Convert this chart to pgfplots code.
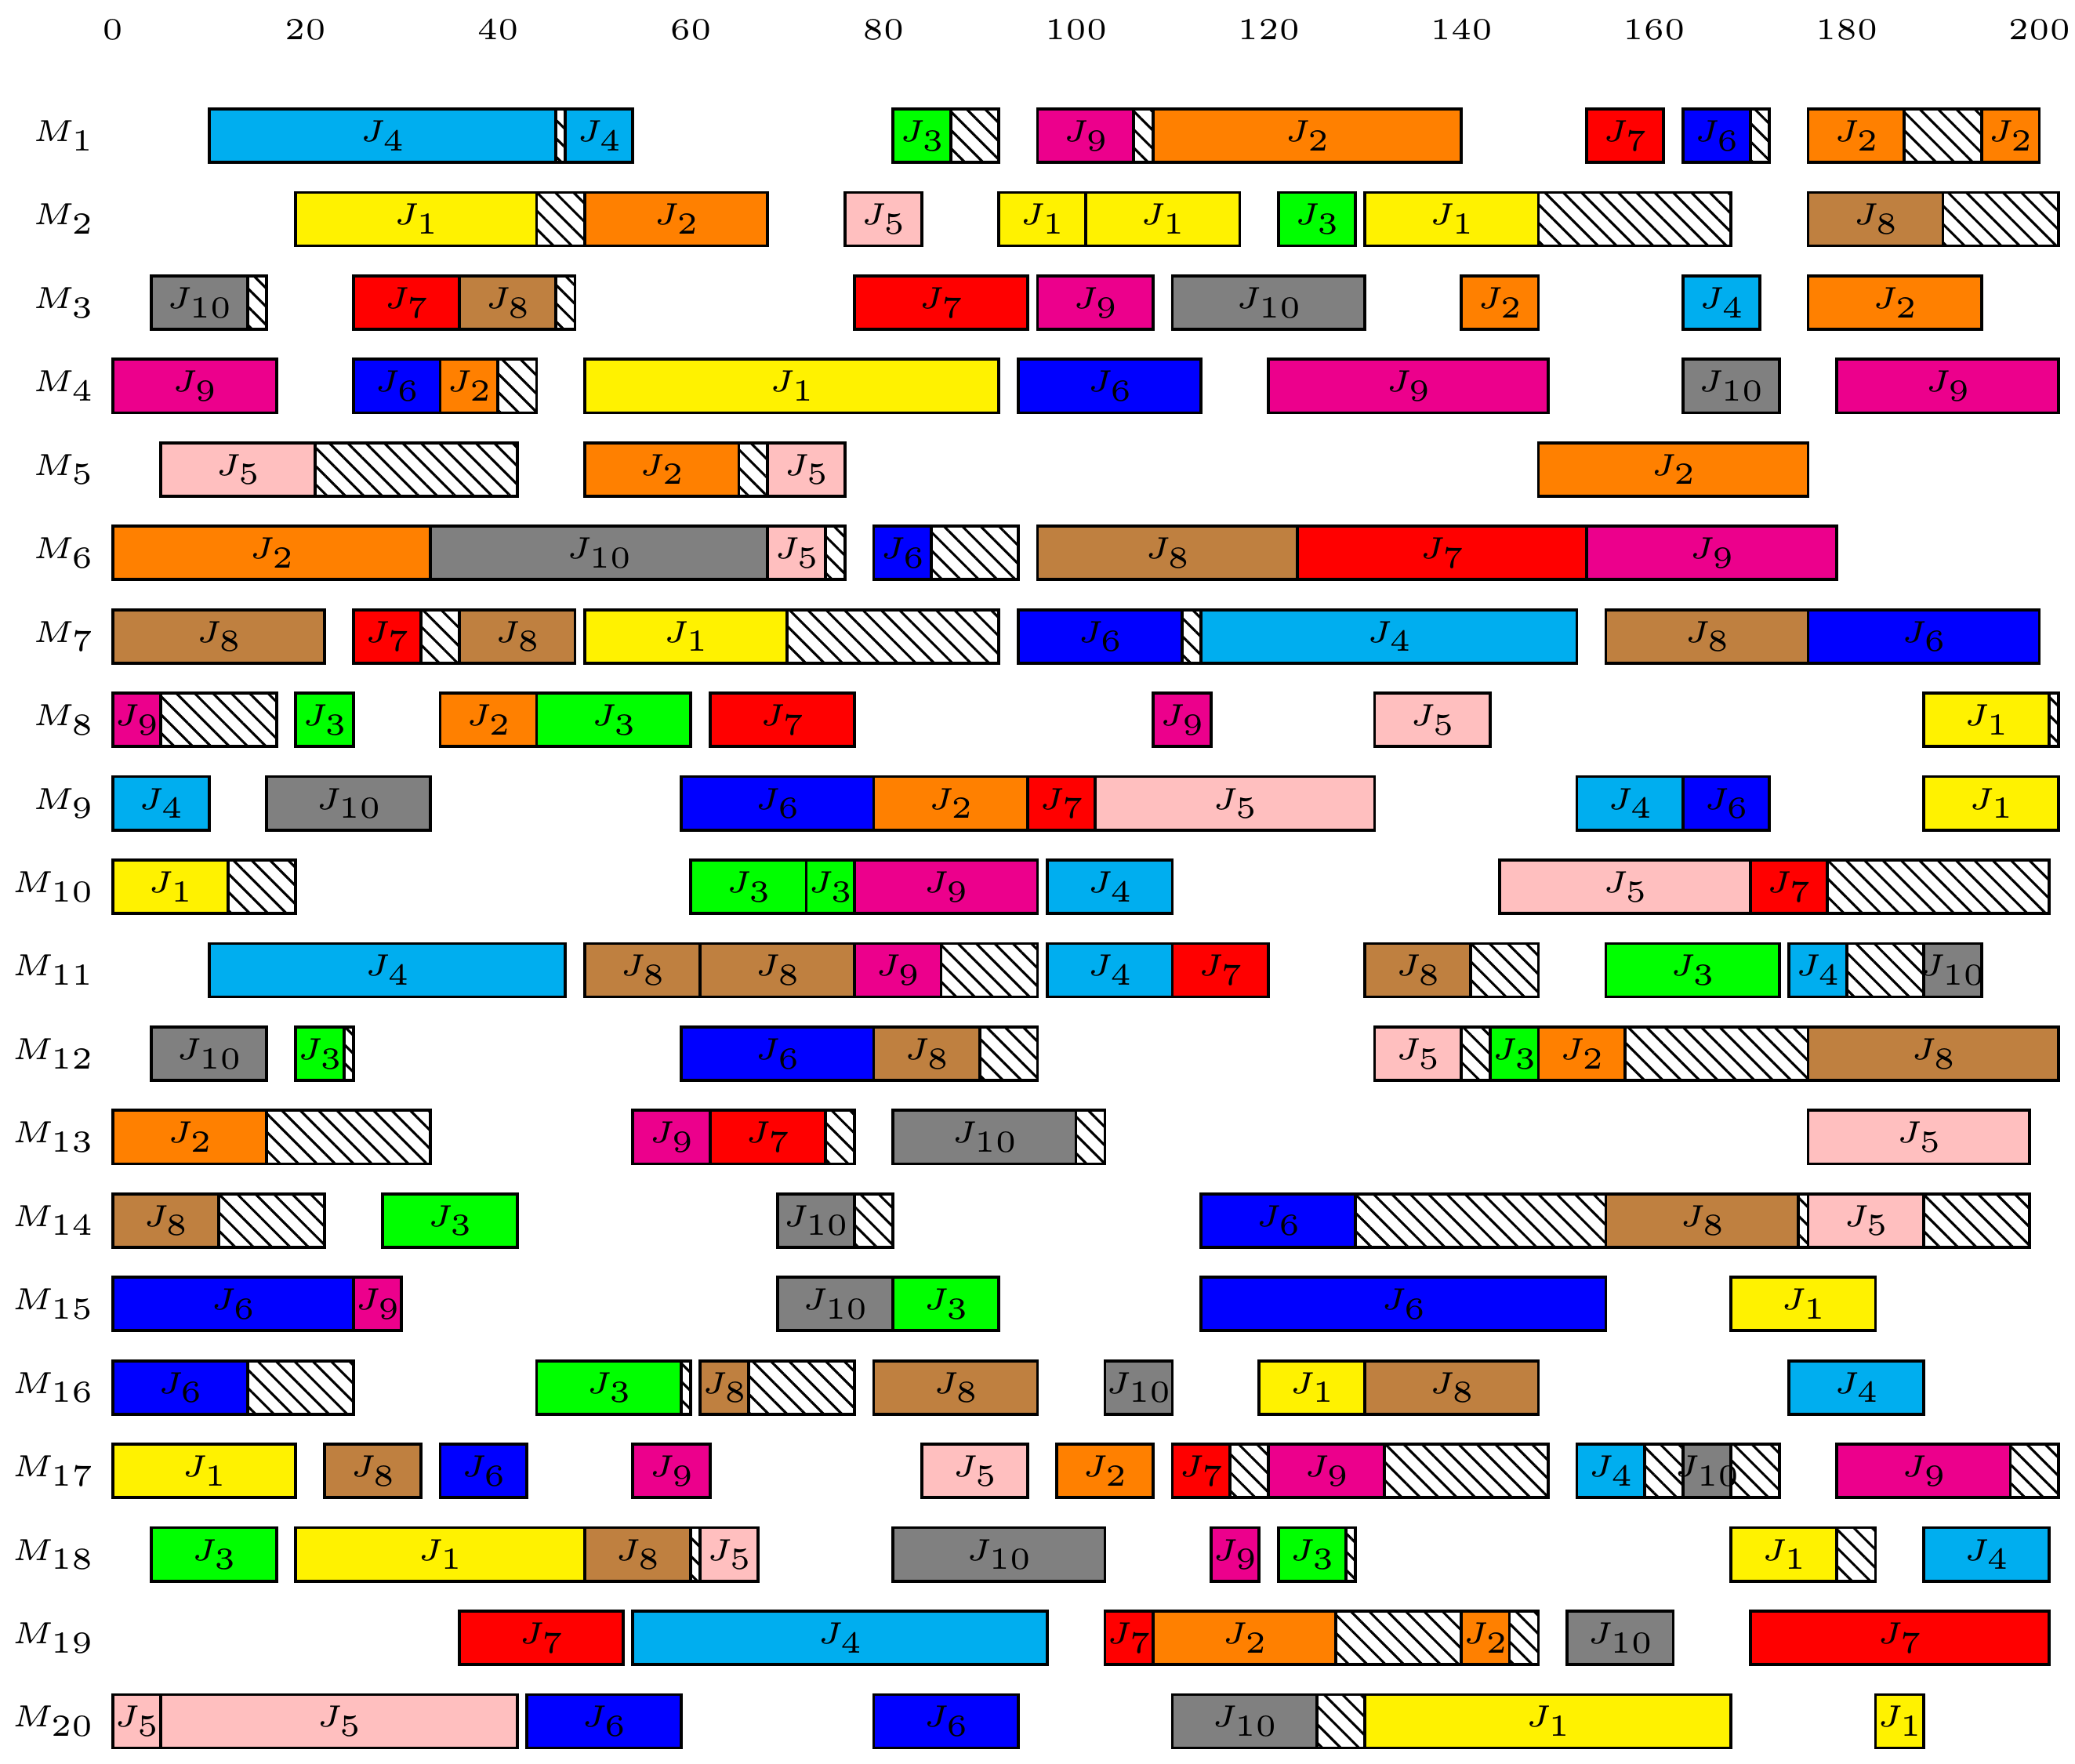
\documentclass[border=0pt]{standalone}
\usepackage{pgfplots}
\pgfplotsset{compat=1.18}
\usetikzlibrary{patterns.meta}
\DeclareFontShape{OT1}{cmr}{m}{n}{<-> cmr5}{}
\DeclareFontShape{OML}{cmm}{m}{it}{<-> cmmi5}{}
\DeclareFontShape{OMS}{cmsy}{m}{n}{<-> cmsy5}{}
\DeclareMathSizes{8.7}{8.7}{8.7}{8.7}
\definecolor{c1}{RGB}{255,242,0}
\definecolor{c2}{RGB}{255,128,0}
\definecolor{c3}{RGB}{0,255,0}
\definecolor{c4}{RGB}{0,174,239}
\definecolor{c5}{RGB}{255,191,191}
\definecolor{c6}{RGB}{0,0,255}
\definecolor{c7}{RGB}{255,0,0}
\definecolor{c8}{RGB}{191,128,64}
\definecolor{c9}{RGB}{236,0,140}
\definecolor{c10}{RGB}{128,128,128}
\newcommand\lblfont{\fontsize{8.7}{10}\selectfont}
\tikzset{hatch/.style={pattern={Lines[angle=-45,distance=3.69pt,line width=0.7pt]},pattern color=black}}
% job bar: row, start, end, job
\newcommand\JT[4]{%
  \pgfmathsetmacro\ylo{#1-0.32}\pgfmathsetmacro\yhi{#1+0.32}%
  \pgfmathsetmacro\xm{(#2+#3)/2}%
  \edef\tmp{\noexpand\addplot[draw=black,line width=0.85pt,fill=c#4] coordinates {(#2,\ylo) (#3,\ylo) (#3,\yhi) (#2,\yhi)} --cycle;%
  \noexpand\addplot[draw=none,mark=none,nodes near coords={$J_{#4}$},every node near coord/.append style={anchor=center,text=black,font=\noexpand\lblfont}] coordinates {(\xm,#1)};}%
  \tmp}
% idle (hatched): row, start, end
\newcommand\HT[3]{%
  \pgfmathsetmacro\ylo{#1-0.32}\pgfmathsetmacro\yhi{#1+0.32}%
  \edef\tmp{\noexpand\addplot[draw=black,line width=0.85pt,hatch] coordinates {(#2,\ylo) (#3,\ylo) (#3,\yhi) (#2,\yhi)} --cycle;}%
  \tmp}
\begin{document}
\begin{tikzpicture}
\begin{axis}[
  x=2.743pt, y=23.76pt, y dir=reverse,
  xmin=-0.62, xmax=202, ymin=0, ymax=20.5,
  axis line style={draw=none},
  major tick length=0pt,
  xtick={0,20,...,200},
  xticklabel pos=upper,
  ytick={1,...,20},
  tick label style={font=\lblfont},
  xticklabel style={inner xsep=1.3pt,text height=8pt},
  yticklabels={$M_{1}$,$M_{2}$,$M_{3}$,$M_{4}$,$M_{5}$,$M_{6}$,$M_{7}$,$M_{8}$,$M_{9}$,$M_{10}$,$M_{11}$,$M_{12}$,$M_{13}$,$M_{14}$,$M_{15}$,$M_{16}$,$M_{17}$,$M_{18}$,$M_{19}$,$M_{20}$},
  clip=false,
]
% M1
\JT{1}{10}{46}{4} \HT{1}{46}{47} \JT{1}{47}{54}{4}
\JT{1}{81}{87}{3} \HT{1}{87}{92}
\JT{1}{96}{106}{9} \HT{1}{106}{108} \JT{1}{108}{140}{2}
\JT{1}{153}{161}{7}
\JT{1}{163}{170}{6} \HT{1}{170}{172}
\JT{1}{176}{186}{2} \HT{1}{186}{194} \JT{1}{194}{200}{2}
% M2
\JT{2}{19}{44}{1} \HT{2}{44}{49} \JT{2}{49}{68}{2}
\JT{2}{76}{84}{5}
\JT{2}{92}{101}{1} \JT{2}{101}{117}{1}
\JT{2}{121}{129}{3}
\JT{2}{130}{148}{1} \HT{2}{148}{168}
\JT{2}{176}{190}{8} \HT{2}{190}{202}
% M3
\JT{3}{4}{14}{10} \HT{3}{14}{16}
\JT{3}{25}{36}{7} \JT{3}{36}{46}{8} \HT{3}{46}{48}
\JT{3}{77}{95}{7}
\JT{3}{96}{108}{9}
\JT{3}{110}{130}{10}
\JT{3}{140}{148}{2}
\JT{3}{163}{171}{4}
\JT{3}{176}{194}{2}
% M4
\JT{4}{0}{17}{9}
\JT{4}{25}{34}{6} \JT{4}{34}{40}{2} \HT{4}{40}{44}
\JT{4}{49}{92}{1}
\JT{4}{94}{113}{6}
\JT{4}{120}{149}{9}
\JT{4}{163}{173}{10}
\JT{4}{179}{202}{9}
% M5
\JT{5}{5}{21}{5} \HT{5}{21}{42}
\JT{5}{49}{65}{2} \HT{5}{65}{68} \JT{5}{68}{76}{5}
\JT{5}{148}{176}{2}
% M6
\JT{6}{0}{33}{2} \JT{6}{33}{68}{10} \JT{6}{68}{74}{5} \HT{6}{74}{76}
\JT{6}{79}{85}{6} \HT{6}{85}{94}
\JT{6}{96}{123}{8} \JT{6}{123}{153}{7} \JT{6}{153}{179}{9}
% M7
\JT{7}{0}{22}{8}
\JT{7}{25}{32}{7} \HT{7}{32}{36} \JT{7}{36}{48}{8}
\JT{7}{49}{70}{1} \HT{7}{70}{92}
\JT{7}{94}{111}{6} \HT{7}{111}{113} \JT{7}{113}{152}{4}
\JT{7}{155}{176}{8} \JT{7}{176}{200}{6}
% M8
\JT{8}{0}{5}{9} \HT{8}{5}{17}
\JT{8}{19}{25}{3}
\JT{8}{34}{44}{2} \JT{8}{44}{60}{3}
\JT{8}{62}{77}{7}
\JT{8}{108}{114}{9}
\JT{8}{131}{143}{5}
\JT{8}{188}{201}{1} \HT{8}{201}{202}
% M9
\JT{9}{0}{10}{4}
\JT{9}{16}{33}{10}
\JT{9}{59}{79}{6} \JT{9}{79}{95}{2} \JT{9}{95}{102}{7} \JT{9}{102}{131}{5}
\JT{9}{152}{163}{4} \JT{9}{163}{172}{6}
\JT{9}{188}{202}{1}
% M10
\JT{10}{0}{12}{1} \HT{10}{12}{19}
\JT{10}{60}{72}{3} \JT{10}{72}{77}{3} \JT{10}{77}{96}{9}
\JT{10}{97}{110}{4}
\JT{10}{144}{170}{5} \JT{10}{170}{178}{7} \HT{10}{178}{201}
% M11
\JT{11}{10}{47}{4}
\JT{11}{49}{61}{8} \JT{11}{61}{77}{8} \JT{11}{77}{86}{9} \HT{11}{86}{96}
\JT{11}{97}{110}{4} \JT{11}{110}{120}{7}
\JT{11}{130}{141}{8} \HT{11}{141}{148}
\JT{11}{155}{173}{3}
\JT{11}{174}{180}{4} \HT{11}{180}{188} \JT{11}{188}{194}{10}
% M12
\JT{12}{4}{16}{10}
\JT{12}{19}{24}{3} \HT{12}{24}{25}
\JT{12}{59}{79}{6} \JT{12}{79}{90}{8} \HT{12}{90}{96}
\JT{12}{131}{140}{5} \HT{12}{140}{143} \JT{12}{143}{148}{3} \JT{12}{148}{157}{2} \HT{12}{157}{176} \JT{12}{176}{202}{8}
% M13
\JT{13}{0}{16}{2} \HT{13}{16}{33}
\JT{13}{54}{62}{9} \JT{13}{62}{74}{7} \HT{13}{74}{77}
\JT{13}{81}{100}{10} \HT{13}{100}{103}
\JT{13}{176}{199}{5}
% M14
\JT{14}{0}{11}{8} \HT{14}{11}{22}
\JT{14}{28}{42}{3}
\JT{14}{69}{77}{10} \HT{14}{77}{81}
\JT{14}{113}{129}{6} \HT{14}{129}{155} \JT{14}{155}{175}{8} \HT{14}{175}{176} \JT{14}{176}{188}{5} \HT{14}{188}{199}
% M15
\JT{15}{0}{25}{6} \JT{15}{25}{30}{9}
\JT{15}{69}{81}{10} \JT{15}{81}{92}{3}
\JT{15}{113}{155}{6}
\JT{15}{168}{183}{1}
% M16
\JT{16}{0}{14}{6} \HT{16}{14}{25}
\JT{16}{44}{59}{3} \HT{16}{59}{60}
\JT{16}{61}{66}{8} \HT{16}{66}{77}
\JT{16}{79}{96}{8}
\JT{16}{103}{110}{10}
\JT{16}{119}{130}{1} \JT{16}{130}{148}{8}
\JT{16}{174}{188}{4}
% M17
\JT{17}{0}{19}{1}
\JT{17}{22}{32}{8}
\JT{17}{34}{43}{6}
\JT{17}{54}{62}{9}
\JT{17}{84}{95}{5}
\JT{17}{98}{108}{2}
\JT{17}{110}{116}{7} \HT{17}{116}{120} \JT{17}{120}{132}{9} \HT{17}{132}{149}
\JT{17}{152}{159}{4} \HT{17}{159}{163} \JT{17}{163}{168}{10} \HT{17}{168}{173}
\JT{17}{179}{197}{9} \HT{17}{197}{202}
% M18
\JT{18}{4}{17}{3}
\JT{18}{19}{49}{1} \JT{18}{49}{60}{8} \HT{18}{60}{61} \JT{18}{61}{67}{5}
\JT{18}{81}{103}{10}
\JT{18}{114}{119}{9}
\JT{18}{121}{128}{3} \HT{18}{128}{129}
\JT{18}{168}{179}{1} \HT{18}{179}{183}
\JT{18}{188}{201}{4}
% M19
\JT{19}{36}{53}{7}
\JT{19}{54}{97}{4}
\JT{19}{103}{108}{7} \JT{19}{108}{127}{2} \HT{19}{127}{140} \JT{19}{140}{145}{2} \HT{19}{145}{148}
\JT{19}{151}{162}{10}
\JT{19}{170}{201}{7}
% M20
\JT{20}{0}{5}{5} \JT{20}{5}{42}{5}
\JT{20}{43}{59}{6}
\JT{20}{79}{94}{6}
\JT{20}{110}{125}{10} \HT{20}{125}{130} \JT{20}{130}{168}{1}
\JT{20}{183}{188}{1}
\end{axis}
\end{tikzpicture}
\end{document}
